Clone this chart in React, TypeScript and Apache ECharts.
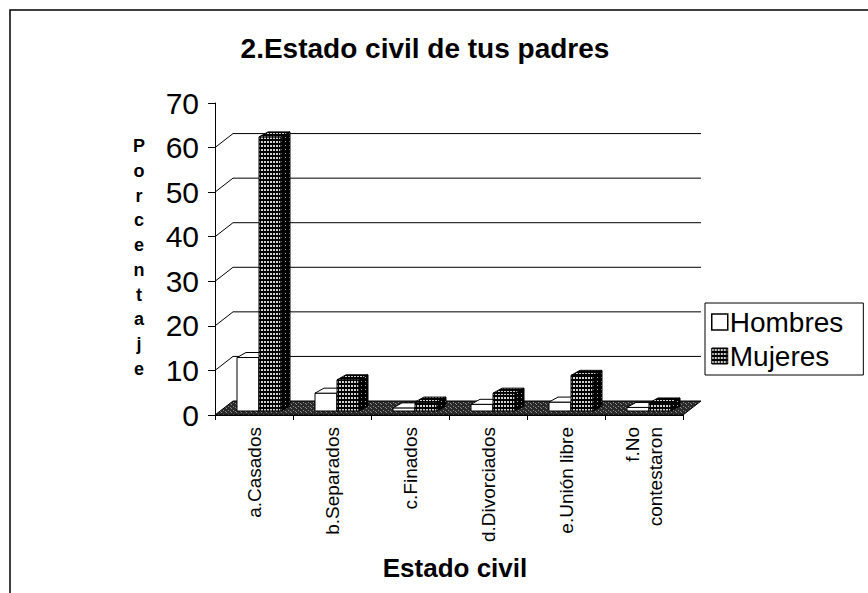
import React, { useEffect, useRef } from "react";
import * as echarts from "echarts";

const categories = ["a.Casados", "b.Separados", "c.Finados", "d.Divorciados", "e.Unión libre", "f.No\ncontestaron"];
const hombres = [12, 4, 0.7, 1.5, 2, 0.8];
const mujeres = [61.5, 7, 2, 4, 8, 1.8];
const gridValues = [10, 20, 30, 40, 50, 60];
const seriesNames = ["Hombres", "Mujeres"];
const titleText = "2.Estado civil de tus padres";
const yAxisName = "Porcentaje";
const xAxisName = "Estado civil";

const FONT = "'Liberation Sans', Arial, sans-serif";
const WALL_DX = 18;
const WALL_DY = 14;
const BAR_DX = 9;
const BAR_DY = 5;
const BAR_LIFT = 4;

function makePattern(w: number, h: number, bg: string, fg: string, rects: number[][]) {
  const c = document.createElement("canvas");
  c.width = w;
  c.height = h;
  const ctx = c.getContext("2d")!;
  ctx.fillStyle = bg;
  ctx.fillRect(0, 0, w, h);
  ctx.fillStyle = fg;
  rects.forEach((r) => ctx.fillRect(r[0], r[1], r[2], r[3]));
  return { image: c.toDataURL(), repeat: "repeat", imageWidth: w, imageHeight: h } as any;
}

export default function App() {
  const ref = useRef<HTMLDivElement>(null);
  useEffect(() => {
    if (!ref.current) return;
    const chart = echarts.init(ref.current, undefined, { renderer: "svg" });

    const frontPat = makePattern(3, 4, "#000", "#d0d0d0", [[0, 1, 2, 2]]);
    const sidePat = makePattern(4, 4, "#000", "#aaa", [[1, 1, 1, 1]]);
    const topPat = makePattern(3, 3, "#000", "#ccc", [[0, 1, 2, 1]]);
    const floorPat = makePattern(5, 4, "#2a2a2a", "#8a8a8a", [[1, 0, 1, 1], [3, 2, 1, 1], [0, 3, 1, 1]]);

    const barRender = (s: number) => (params: any, api: any) => {
      const cat = api.value(0);
      const v = api.value(1);
      const base = api.coord([cat, 0]);
      const top = api.coord([cat, v]);
      const bw = api.size([1, 0])[0];
      const w = (bw * 22) / 78;
      const x0 = base[0] - bw / 2 + w + s * w;
      const yb = base[1] - BAR_LIFT;
      const yt = top[1] - BAR_LIFT;
      const isM = s === 1;
      const stroke = { stroke: "#000", lineWidth: 1 };
      return {
        type: "group",
        children: [
          {
            type: "rect",
            shape: { x: x0, y: yt, width: w, height: yb - yt },
            style: { fill: isM ? frontPat : "#fff", ...stroke },
          },
          {
            type: "polygon",
            shape: { points: [[x0 + w, yt], [x0 + w + BAR_DX, yt - BAR_DY], [x0 + w + BAR_DX, yb - BAR_DY], [x0 + w, yb]] },
            style: { fill: isM ? sidePat : "#fff", ...stroke },
          },
          {
            type: "polygon",
            shape: { points: [[x0, yt], [x0 + w, yt], [x0 + w + BAR_DX, yt - BAR_DY], [x0 + BAR_DX, yt - BAR_DY]] },
            style: { fill: isM ? topPat : "#fff", ...stroke },
          },
        ],
      };
    };

    const option: any = {
      animation: false,
      backgroundColor: "#fff",
      title: {
        text: titleText,
        left: 420,
        top: 29,
        textAlign: "center",
        textStyle: { fontFamily: FONT, fontSize: 28, fontWeight: "bold", color: "#000" },
      },
      legend: {
        orient: "vertical",
        left: 705,
        top: 303,
        padding: [5, 20, 5, 6],
        itemGap: 6,
        itemWidth: 16,
        itemHeight: 16,
        borderColor: "#000",
        borderWidth: 1,
        textStyle: { fontFamily: FONT, fontSize: 28, color: "#000", padding: [0, 0, 0, -3] },
        data: [
          { name: seriesNames[0], icon: "rect", itemStyle: { color: "#fff", borderColor: "#000", borderWidth: 1.5 } },
          { name: seriesNames[1], icon: "rect", itemStyle: { color: frontPat, borderColor: "#000", borderWidth: 1 } },
        ],
      },
      grid: { left: 215, top: 103, width: 468, height: 312 },
      xAxis: {
        type: "category",
        data: categories,
        boundaryGap: true,
        axisLine: { show: true, lineStyle: { color: "#000", width: 1 } },
        axisTick: { show: true, length: 5, lineStyle: { color: "#000" } },
        axisLabel: { rotate: 90, fontFamily: FONT, fontSize: 19, color: "#000", margin: 12, lineHeight: 23 },
      },
      yAxis: {
        type: "value",
        min: 0,
        max: 70,
        interval: 10,
        axisLine: { show: true, lineStyle: { color: "#000", width: 1 } },
        axisTick: { show: true, length: 7, lineStyle: { color: "#000" } },
        axisLabel: { fontFamily: FONT, fontSize: 30, color: "#000", margin: 16 },
        splitLine: { show: false },
      },
      graphic: [
        {
          type: "rect",
          shape: { x: 10, y: 10, width: 1000, height: 800 },
          style: { fill: "none", stroke: "#000", lineWidth: 1.5 },
          silent: true,
        },
        {
          type: "text",
          x: 139,
          y: 134,
          style: {
            text: yAxisName.split("").join("\n"),
            fontFamily: FONT,
            fontSize: 18,
            fontWeight: "bold",
            lineHeight: 24.7,
            fill: "#000",
            align: "center",
          },
        },
        {
          type: "text",
          x: 455,
          y: 555,
          style: {
            text: xAxisName,
            fontFamily: FONT,
            fontSize: 26,
            fontWeight: "bold",
            fill: "#000",
            align: "center",
          },
        },
      ],
      series: [
        {
          type: "custom",
          name: "floor",
          clip: false,
          silent: true,
          data: [[0, 0]],
          z: 1,
          renderItem: (params: any, api: any) => {
            const cs = params.coordSys;
            const L = cs.x, R = cs.x + cs.width, B = cs.y + cs.height;
            return {
              type: "polygon",
              shape: { points: [[L, B], [R, B], [R + WALL_DX, B - WALL_DY], [L + WALL_DX, B - WALL_DY]] },
              style: { fill: floorPat, stroke: "#000", lineWidth: 1 },
            };
          },
        },
        {
          type: "custom",
          name: "wall",
          clip: false,
          silent: true,
          data: gridValues.map((v) => [0, v]),
          z: 1,
          renderItem: (params: any, api: any) => {
            const cs = params.coordSys;
            const L = cs.x, R = cs.x + cs.width;
            const y = api.coord([0, api.value(1)])[1];
            return {
              type: "polyline",
              shape: { points: [[L, y], [L + WALL_DX, y - WALL_DY], [R + WALL_DX, y - WALL_DY]] },
              style: { fill: "none", stroke: "#000", lineWidth: 1 },
            };
          },
        },
        {
          type: "custom",
          name: seriesNames[0],
          clip: false,
          z: 3,
          itemStyle: { color: "#fff", borderColor: "#000", borderWidth: 1 },
          data: hombres.map((v, i) => [i, v]),
          renderItem: barRender(0),
        },
        {
          type: "custom",
          name: seriesNames[1],
          clip: false,
          z: 3,
          itemStyle: { color: frontPat, borderColor: "#000", borderWidth: 1 },
          data: mujeres.map((v, i) => [i, v]),
          renderItem: barRender(1),
        },
      ],
    };
    chart.setOption(option);
    return () => chart.dispose();
  }, []);
  return <div ref={ref} style={{ position: "absolute", left: 0, top: 0, width: 868, height: 593 }} />;
}
